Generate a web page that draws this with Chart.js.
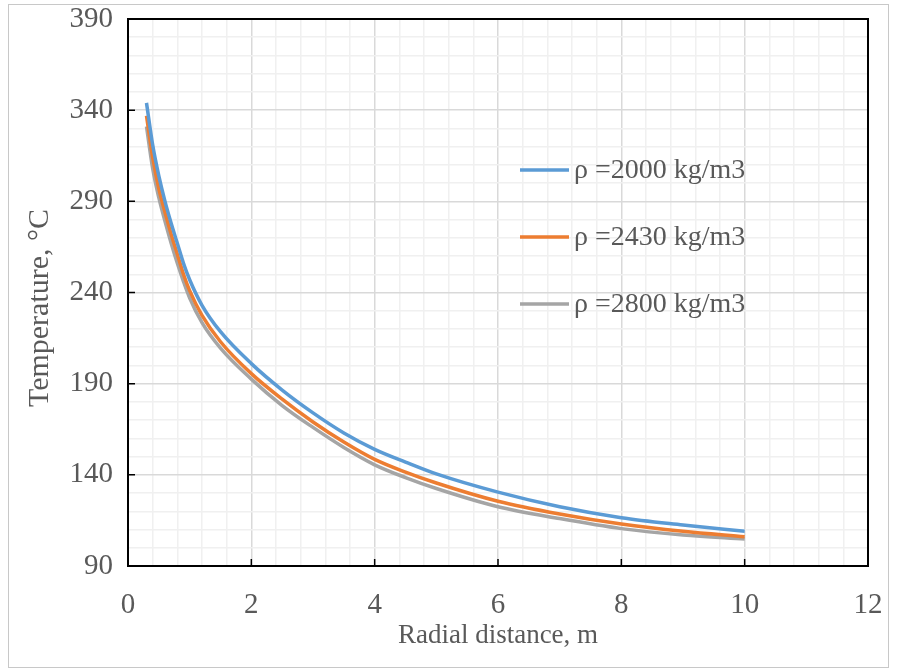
<!DOCTYPE html>
<html>
<head>
<meta charset="utf-8">
<script src="https://cdn.jsdelivr.net/npm/chart.js@4"></script>
<style>
  html, body { margin: 0; padding: 0; background: #fff; }
  #wrap { width: 897px; height: 671px; }
</style>
</head>
<body>
<div id="wrap"><canvas id="mycanvas" width="897" height="671"></canvas></div>
<script>
var radialDistance = [0.3, 0.4, 0.5, 0.6, 0.7, 0.8, 0.9, 1, 1.2, 1.5, 2, 2.5, 3, 3.5, 4, 4.5, 5, 6, 7, 8, 9, 10];
var temp2000 = [344, 321, 304, 290, 278, 267, 256, 247, 233, 218.5, 201, 186.5, 174, 163, 154, 147, 140.5, 130.5, 122.5, 116.5, 112.5, 109];
var temp2430 = [337, 314, 297, 284, 272, 261, 250, 241, 227.5, 213, 195.5, 181.5, 169, 158, 148.5, 141.5, 135.5, 125.5, 118.5, 113, 109, 106];
var temp2800 = [331, 308, 292, 279, 267, 256, 246, 237, 223.5, 209.5, 192.5, 178, 166, 155, 145.5, 138.5, 132.5, 122.5, 116, 110.5, 107, 104.8];
var seriesLabels = ['ρ =2000 kg/m3', 'ρ =2430 kg/m3', 'ρ =2800 kg/m3'];
var seriesColors = ['#5b9bd5', '#ed7d31', '#a5a5a5'];
var yTitle = 'Temperature, °C';

function pts(ys) {
  var out = [];
  for (var i in radialDistance) out.push({x: radialDistance[i], y: ys[i]});
  return out;
}

var isMajorX = function(v) { return Math.abs(v - Math.round(v / 2) * 2) < 1e-6; };
var isMajorY = function(v) { return Math.abs(((v - 90) % 50)) < 1e-6; };

var frame = {
  id: 'frame',
  beforeDraw: function(chart) {
    var c = chart.ctx;
    c.save();
    c.fillStyle = '#fff';
    c.fillRect(0, 0, chart.width, chart.height);
    c.strokeStyle = '#c8c8c8';
    c.lineWidth = 1;
    c.strokeRect(8.5, 4.5, 880, 663);
    c.restore();
  },
  afterDraw: function(chart) {
    var c = chart.ctx, a = chart.chartArea;
    var xs = chart.scales.x, ys = chart.scales.y;
    c.save();
    c.strokeStyle = '#000';
    c.lineWidth = 2;
    c.strokeRect(a.left, a.top, a.right - a.left, a.bottom - a.top);
    // inside tick marks
    c.lineWidth = 1.5;
    c.beginPath();
    xs.ticks.forEach(function(t) {
      if (!isMajorX(t.value)) return;
      var px = xs.getPixelForValue(t.value);
      c.moveTo(px, a.bottom); c.lineTo(px, a.bottom - 7);
    });
    ys.ticks.forEach(function(t) {
      if (!isMajorY(t.value)) return;
      var py = ys.getPixelForValue(t.value);
      c.moveTo(a.left, py); c.lineTo(a.left + 7, py);
    });
    c.stroke();
    // y axis title
    c.fillStyle = '#595959';
    c.font = '30px "Liberation Serif"';
    c.textAlign = 'center';
    c.textBaseline = 'middle';
    c.translate(40, 308);
    c.rotate(-Math.PI / 2);
    c.fillText(yTitle, 0, 0);
    c.setTransform(1, 0, 0, 1, 0, 0);
    // legend inside plot
    c.font = '28px "Liberation Serif"';
    c.textAlign = 'left';
    for (var i = 0; i < seriesLabels.length; i++) {
      var ly = 170 + i * 67;
      c.strokeStyle = seriesColors[i];
      c.lineWidth = 3.5;
      c.beginPath();
      c.moveTo(520, ly); c.lineTo(569, ly);
      c.stroke();
      c.fillText(seriesLabels[i], 574, ly + 1);
    }
    c.restore();
  }
};

var ctx = document.getElementById('mycanvas');
var chart = new Chart(ctx, {
  type: 'line',
  data: {
    datasets: [
      {label: seriesLabels[0], data: pts(temp2000), borderColor: seriesColors[0]},
      {label: seriesLabels[1], data: pts(temp2430), borderColor: seriesColors[1]},
      {label: seriesLabels[2], data: pts(temp2800), borderColor: seriesColors[2]}
    ]
  },
  options: {
    responsive: false,
    animation: false,
    devicePixelRatio: 1,
    layout: {padding: {left: 0, top: 19, right: 29, bottom: 0}},
    elements: {
      line: {borderWidth: 3.5, cubicInterpolationMode: 'monotone', fill: false},
      point: {radius: 0}
    },
    plugins: {legend: {display: false}, tooltip: {enabled: false}},
    scales: {
      x: {
        type: 'linear', min: 0, max: 12,
        afterFit: function(s) { s.height = 105; s.paddingLeft = 0; s.paddingRight = 0; },
        border: {display: false},
        grid: {
          drawTicks: false,
          color: function(c) { return isMajorX(c.tick.value) ? '#d9d9d9' : '#f0f0f0'; },
          lineWidth: 1.5
        },
        ticks: {
          stepSize: 0.4, autoSkip: false, maxRotation: 0, padding: 22,
          color: '#595959', font: {family: 'Liberation Serif', size: 29},
          callback: function(v) { return isMajorX(v) ? String(Math.round(v)) : ''; }
        },
        title: {
          display: true, text: 'Radial distance, m', color: '#595959',
          font: {family: 'Liberation Serif', size: 27}, padding: {top: 0, bottom: 19}
        }
      },
      y: {
        min: 90, max: 390,
        afterFit: function(s) { s.width = 128; s.paddingTop = 0; s.paddingBottom = 0; },
        border: {display: false},
        grid: {
          drawTicks: false,
          color: function(c) { return isMajorY(c.tick.value) ? '#d9d9d9' : '#f0f0f0'; },
          lineWidth: 1.5
        },
        ticks: {
          stepSize: 10, autoSkip: false, padding: 15,
          color: '#595959', font: {family: 'Liberation Serif', size: 29},
          callback: function(v) { return isMajorY(v) ? String(v) : ''; }
        },
        title: {display: false}
      }
    }
  },
  plugins: [frame]
});
</script>
</body>
</html>
